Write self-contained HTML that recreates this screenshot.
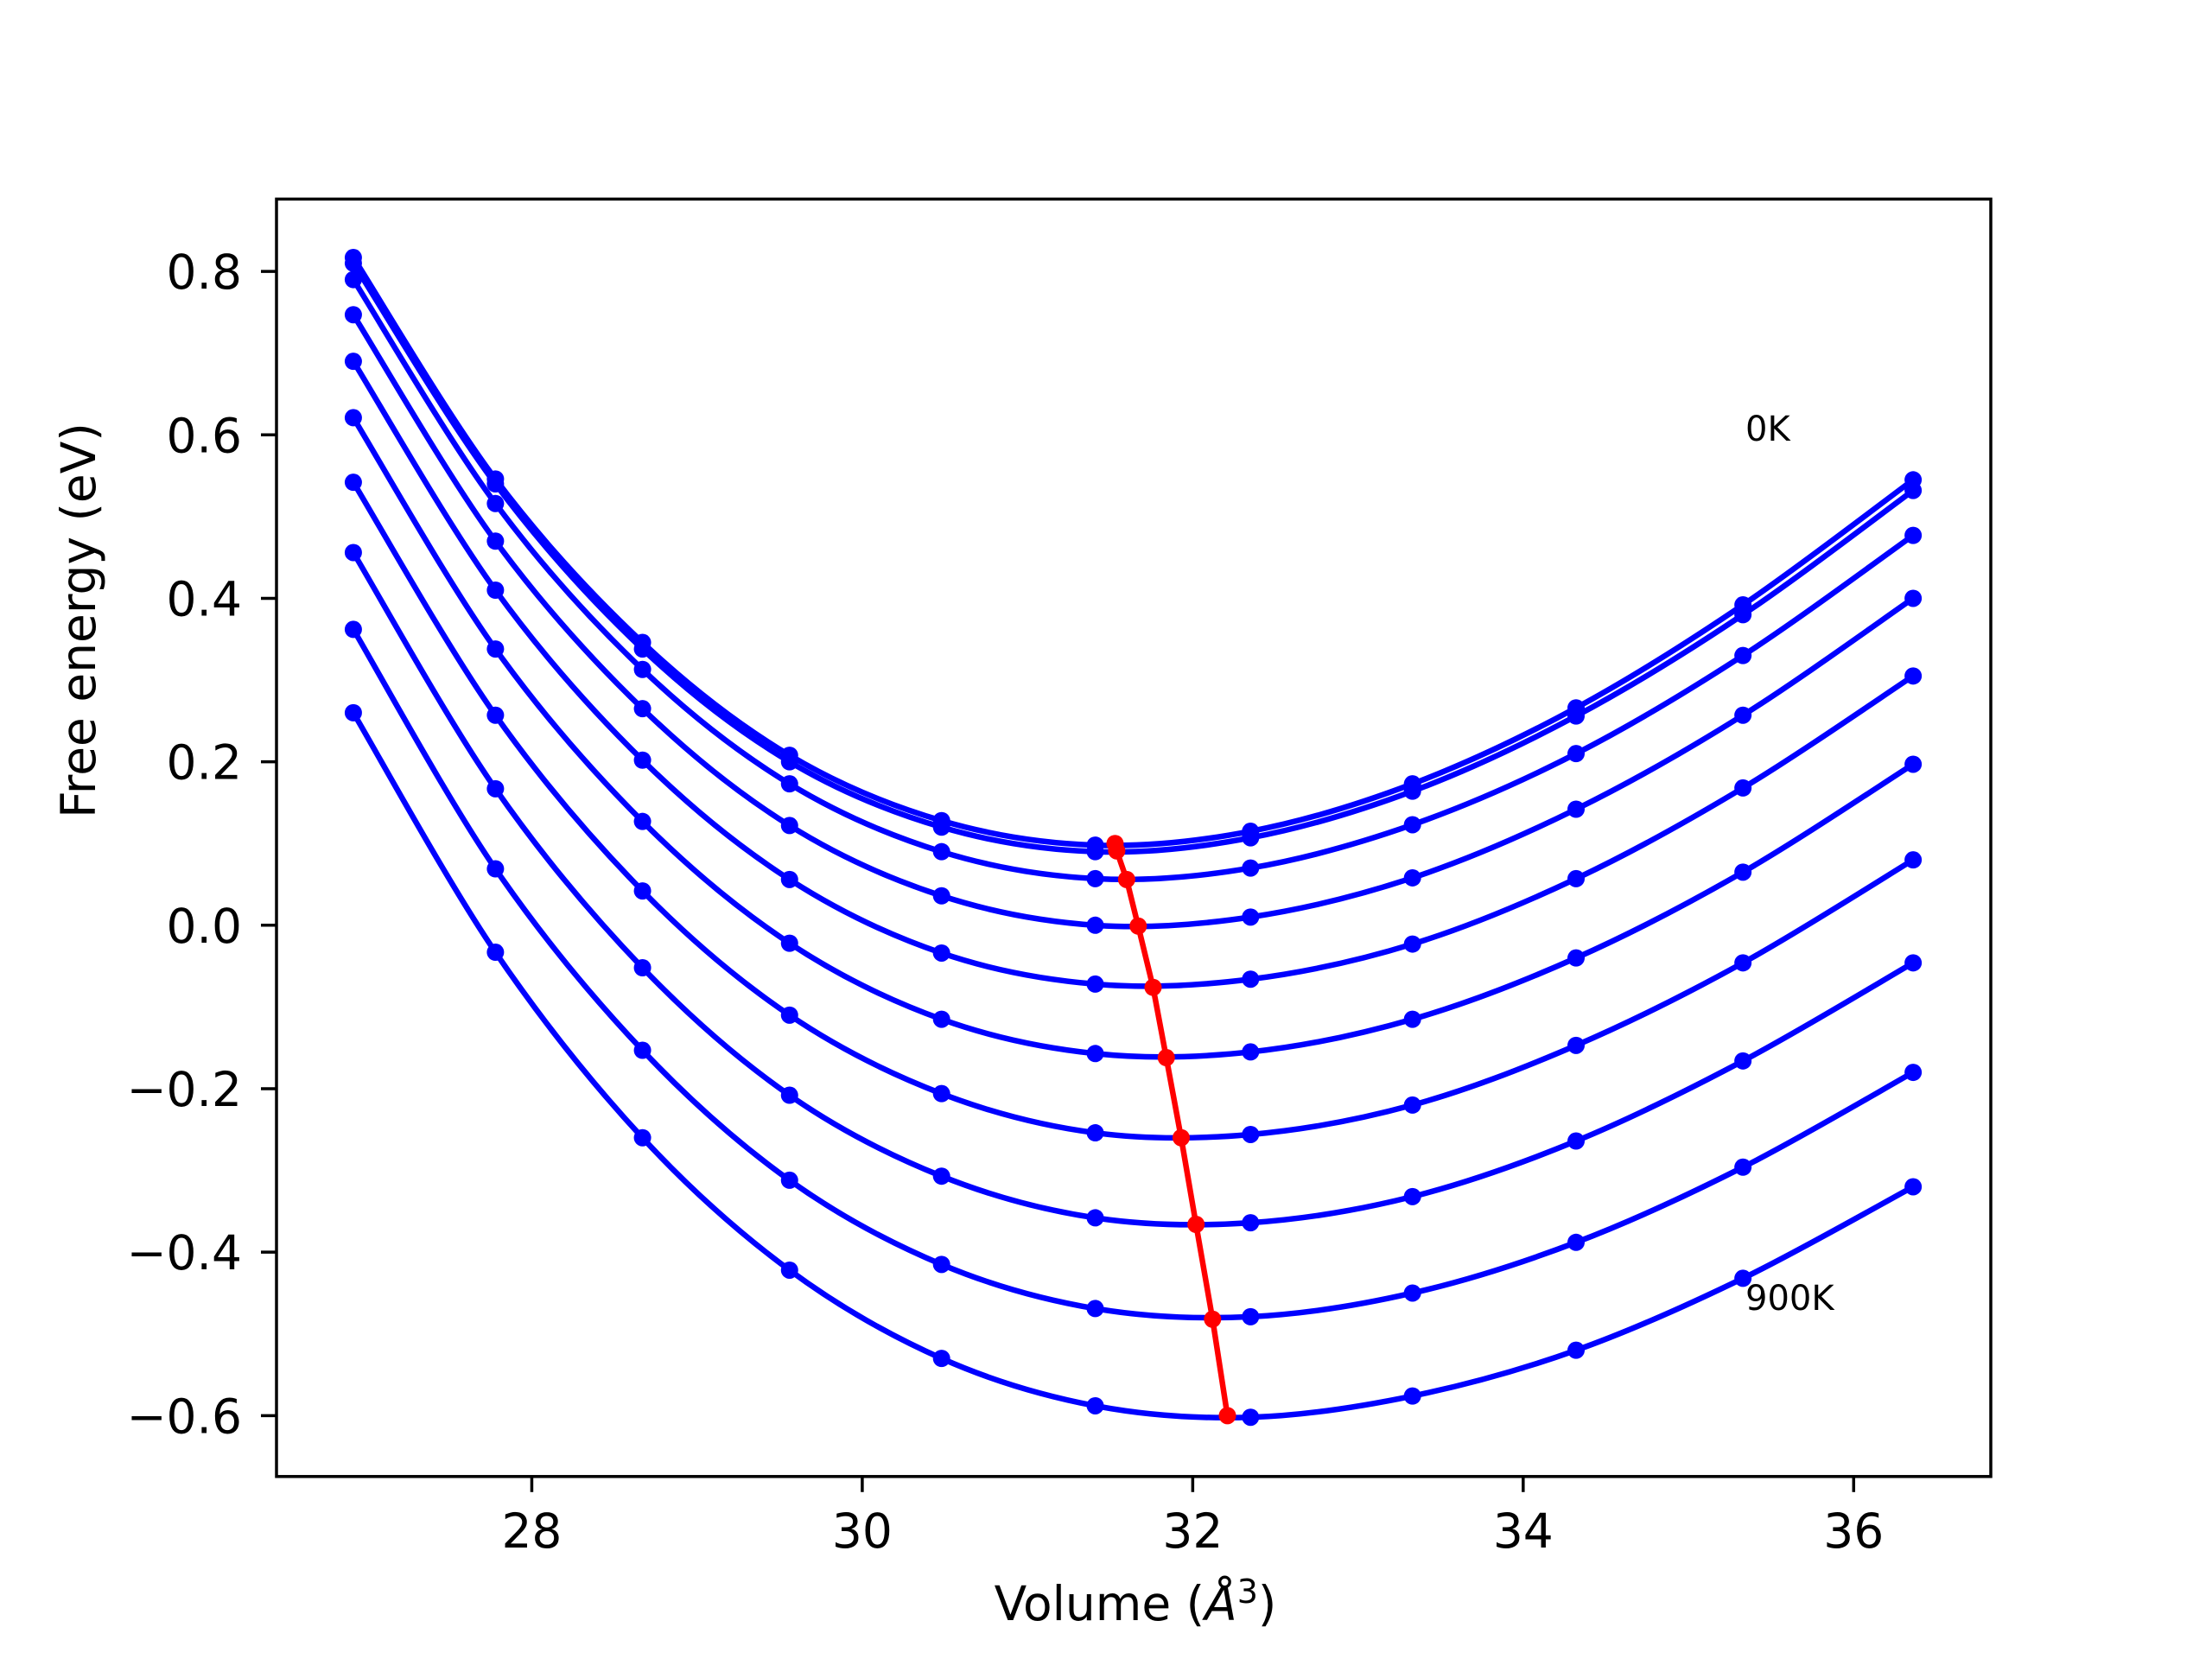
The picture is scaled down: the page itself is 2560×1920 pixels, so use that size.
<!DOCTYPE html>
<html><head><meta charset="utf-8"><style>
html,body{margin:0;padding:0;background:#fff}
svg{display:block}
text{font-family:"DejaVu Sans","Liberation Sans",sans-serif;fill:#000}
</style></head><body>
<svg id="chart" width="2560" height="1920" viewBox="0 0 2560 1920" xmlns="http://www.w3.org/2000/svg">
<rect width="2560" height="1920" fill="#fff"/>
<g id="plot"></g>
<rect x="320" y="230.4" width="1984" height="1478.4" fill="none" stroke="#000" stroke-width="3.5"/>
<g id="ticks"></g>
<text x="2020" y="510" font-size="40">0K</text>
<text x="2020" y="1516" font-size="40">900K</text>
<text x="1314" y="1875" font-size="55" text-anchor="middle">Volume (<tspan font-style="italic">Å</tspan><tspan font-size="38" dy="-20">3</tspan><tspan dy="20">)</tspan></text>
<text transform="translate(110,718) rotate(-90)" font-size="55" text-anchor="middle">Free energy (eV)</text>
</svg>
<script>
const volumes = [26.92, 27.78, 28.67, 29.56, 30.48, 31.41, 32.35, 33.33, 34.32, 35.33, 36.36];
const temperatures = ["0K","100K","200K","300K","400K","500K","600K","700K","800K","900K"];
const e26_92 = [0.817, 0.81, 0.79, 0.747, 0.69, 0.621, 0.542, 0.456, 0.362, 0.26];
const e27_78 = [0.546, 0.54, 0.516, 0.47, 0.41, 0.338, 0.257, 0.167, 0.069, -0.033];
const e28_67 = [0.346, 0.338, 0.313, 0.265, 0.202, 0.127, 0.042, -0.052, -0.153, -0.26];
const e29_56 = [0.208, 0.2, 0.173, 0.122, 0.056, -0.022, -0.11, -0.208, -0.312, -0.422];
const e30_48 = [0.128, 0.12, 0.09, 0.036, -0.034, -0.115, -0.206, -0.307, -0.415, -0.53];
const e31_41 = [0.098, 0.09, 0.057, 0.0, -0.072, -0.157, -0.254, -0.358, -0.469, -0.588];
const e32_35 = [0.115, 0.107, 0.07, 0.01, -0.066, -0.155, -0.256, -0.364, -0.479, -0.602];
const e33_33 = [0.173, 0.164, 0.123, 0.058, -0.023, -0.115, -0.22, -0.332, -0.45, -0.576];
const e34_32 = [0.266, 0.256, 0.21, 0.142, 0.057, -0.04, -0.147, -0.264, -0.388, -0.52];
const e35_33 = [0.392, 0.38, 0.33, 0.257, 0.168, 0.065, -0.046, -0.166, -0.296, -0.432];
const e36_36 = [0.545, 0.532, 0.477, 0.4, 0.305, 0.197, 0.08, -0.046, -0.18, -0.32];
const minVolumes = [31.53, 31.54, 31.60, 31.67, 31.76, 31.84, 31.93, 32.02, 32.12, 32.21];
const minEnergies = [0.1, 0.091, 0.056, -0.001, -0.076, -0.162, -0.26, -0.366, -0.482, -0.6];
const xTicks = [28, 30, 32, 34, 36];
const yTicks = [0.8, 0.6, 0.4, 0.2, 0.0, -0.2, -0.4, -0.6];
const yTickLabels = ["0.8","0.6","0.4","0.2","0.0","\u22120.2","\u22120.4","\u22120.6"];

const NS = "http://www.w3.org/2000/svg";
const X0 = 320, X1 = 2304, Y0 = 1708.8, Y1 = 230.4;
const xmin = 26.455, xmax = 36.83, ymin = -0.6745, ymax = 0.8885;
function sx(v){ return X0 + (v - xmin) / (xmax - xmin) * (X1 - X0); }
function sy(v){ return Y0 - (v - ymin) / (ymax - ymin) * (Y0 - Y1); }
function mk(tag, attrs){ const e = document.createElementNS(NS, tag); for (const k in attrs) e.setAttribute(k, attrs[k]); return e; }

const cols = [e26_92,e27_78,e28_67,e29_56,e30_48,e31_41,e32_35,e33_33,e34_32,e35_33,e36_36];
const plot = document.getElementById('plot');
const ticks = document.getElementById('ticks');

function splinePath(pts){
  let d = "M" + pts[0][0].toFixed(2) + "," + pts[0][1].toFixed(2);
  for (let i = 0; i < pts.length - 1; i++){
    const p0 = pts[Math.max(0,i-1)], p1 = pts[i], p2 = pts[i+1], p3 = pts[Math.min(pts.length-1,i+2)];
    const c1x = p1[0] + (p2[0]-p0[0])/6, c1y = p1[1] + (p2[1]-p0[1])/6;
    const c2x = p2[0] - (p3[0]-p1[0])/6, c2y = p2[1] - (p3[1]-p1[1])/6;
    d += " C" + c1x.toFixed(2)+","+c1y.toFixed(2)+" "+c2x.toFixed(2)+","+c2y.toFixed(2)+" "+p2[0].toFixed(2)+","+p2[1].toFixed(2);
  }
  return d;
}

temperatures.forEach((t, ti) => {
  const pts = volumes.map((v, vi) => [sx(v), sy(cols[vi][ti])]);
  const path = mk('path', {d: splinePath(pts), fill: 'none', stroke: '#0000ff', 'stroke-width': 6.5});
  
  
  plot.appendChild(path);
  pts.forEach(p => {
    const c = mk('circle', {cx: p[0], cy: p[1], r: 10, fill: '#0000ff'});
    
    
    plot.appendChild(c);
  });
});

const mpts = minVolumes.map((v, i) => [sx(v), sy(minEnergies[i])]);
const ml = mk('polyline', {points: mpts.map(p => p.join(',')).join(' '), fill: 'none', stroke: '#ff0000', 'stroke-width': 6.5});


plot.appendChild(ml);
mpts.forEach(p => {
  const c = mk('circle', {cx: p[0], cy: p[1], r: 10, fill: '#ff0000'});
  
  
  plot.appendChild(c);
});

xTicks.forEach(v => {
  const x = sx(v);
  const l = mk('line', {x1: x, x2: x, y1: Y0, y2: Y0 + 18, stroke: '#000', 'stroke-width': 3.5});
  
  
  ticks.appendChild(l);
  const tx = mk('text', {x: x, y: Y0 + 82, 'font-size': 55, 'text-anchor': 'middle'});
  tx.textContent = String(v);
  
  
  ticks.appendChild(tx);
});
yTicks.forEach((v, i) => {
  const y = sy(v);
  const l = mk('line', {x1: X0 - 18, x2: X0, y1: y, y2: y, stroke: '#000', 'stroke-width': 3.5});
  
  
  ticks.appendChild(l);
  const tx = mk('text', {x: X0 - 40, y: y + 20, 'font-size': 55, 'text-anchor': 'end'});
  tx.textContent = yTickLabels[i];
  
  
  ticks.appendChild(tx);
});
</script>
</body></html>
